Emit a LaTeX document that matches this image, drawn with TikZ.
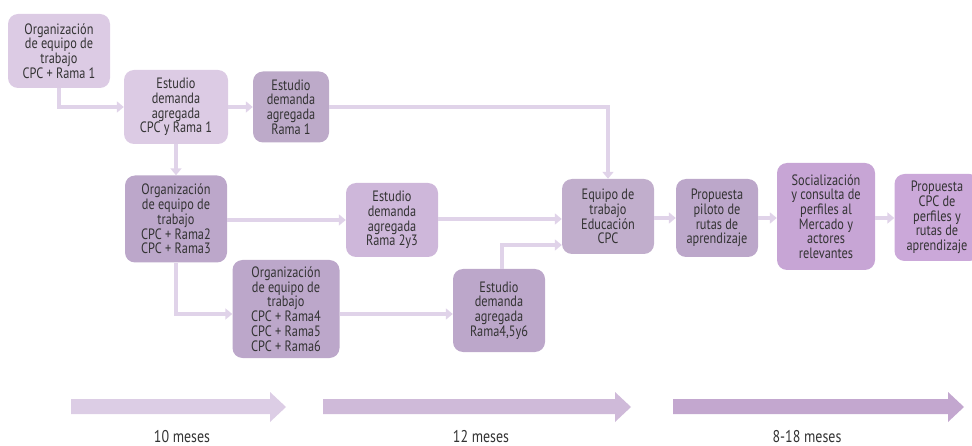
\documentclass[tikz,border=0pt]{standalone}
\usepackage{fontspec}
\setmainfont[FakeStretch=0.82]{PT Sans}
\usetikzlibrary{arrows.meta,calc}
\definecolor{txt}{HTML}{333333}
\definecolor{cA}{HTML}{DCCBE4}
\definecolor{cB}{HTML}{BDAAC9}
\definecolor{cC}{HTML}{BCA7CA}
\definecolor{cD}{HTML}{CEB7DA}
\definecolor{cE}{HTML}{C1AECC}
\definecolor{cF}{HTML}{C7A5D5}
\definecolor{cG}{HTML}{CBA8D9}
\definecolor{conn}{HTML}{E0D3E9}
\definecolor{tA}{HTML}{DCCDE5}
\definecolor{tB}{HTML}{CFBAD9}
\definecolor{tC}{HTML}{C3A7CF}
\tikzset{
  boxnode/.style={rounded corners=10pt, align=center, text=txt, inner sep=2pt,
    font=\fontsize{15}{14.7}\selectfont},
  conline/.style={draw=conn, line width=4.5pt, -{Triangle[width=11pt,length=7pt]}},
  lbl/.style={text=txt, font=\fontsize{17}{18}\selectfont}
}
\begin{document}
\begin{tikzpicture}[x=1pt,y=-1pt]
\useasboundingbox (0,0) rectangle (972,446);
\clip (0,0) rectangle (972,446);
% boxes
\node[boxnode, fill=cA, minimum width=102pt, minimum height=74pt] (b1) at (59,51)
  {Organización\\de equipo de\\trabajo\\CPC + Rama 1};
\node[boxnode, fill=cA, minimum width=104pt, minimum height=74pt] (b2) at (176,107)
  {Estudio\\demanda\\agregada\\CPC y Rama 1};
\node[boxnode, fill=cB, minimum width=76pt, minimum height=71pt] (b3) at (291,107)
  {Estudio\\demanda\\agregada\\Rama 1};
\node[boxnode, fill=cC, minimum width=102pt, minimum height=87pt] (b4) at (176,219)
  {Organización\\de equipo de\\trabajo\\CPC + Rama2\\CPC + Rama3};
\node[boxnode, fill=cD, minimum width=92pt, minimum height=74pt] (b5) at (392,220)
  {Estudio\\demanda\\agregada\\Rama 2y3};
\node[boxnode, fill=cC, minimum width=107pt, minimum height=98pt] (b6) at (286,309)
  {Organización\\de equipo de\\trabajo\\CPC + Rama4\\CPC + Rama5\\CPC + Rama6};
\node[boxnode, fill=cC, minimum width=92pt, minimum height=83pt] (b7) at (499,310.5)
  {Estudio\\demanda\\agregada\\Rama4,5y6};
\node[boxnode, fill=cE, minimum width=92pt, minimum height=75pt] (b8) at (608,216.5)
  {Equipo de\\trabajo\\Educación\\CPC};
\node[boxnode, fill=cC, minimum width=82pt, minimum height=78pt] (b9) at (717,218)
  {Propuesta\\piloto de\\rutas de\\aprendizaje};
\node[boxnode, fill=cF, minimum width=98pt, minimum height=107pt] (b10) at (826,216.5)
  {Socialización\\y consulta de\\perfiles al\\Mercado y\\actores\\relevantes};
\node[boxnode, fill=cG, minimum width=85pt, minimum height=87pt] (b11) at (937,217.5)
  {Propuesta\\CPC de\\perfiles y\\rutas de\\aprendizaje};
% helper coordinates
\coordinate (r6) at ($(b6.west)+(0,5)$);
\coordinate (r8a) at ($(b8.west)+(0,2.5)$);
\coordinate (r8b) at ($(b8.west)+(0,28.5)$);
% connectors
\draw[conline] (b1.south) |- (b2.west);
\draw[conline] (b2.east) -- (b3.west);
\draw[conline] (b3.east) -| (b8.north);
\draw[conline] (b2.south) -- (b4.north);
\draw[conline] (b4.east |- b5.west) -- (b5.west);
\draw[conline] (b5.east |- r8a) -- (r8a);
\draw[conline] (b4.south) |- (r6);
\draw[conline] (b6.east |- r6) -- (b7.west |- r6);
\draw[conline] ($(b7.north)+(3,0)$) |- (r8b);
\draw[conline] (b8.east |- b9.west) -- (b9.west);
\draw[conline] (b9.east) -- (b10.west |- b9.east);
\draw[conline] (b10.east |- b9.east) -- (b11.west |- b9.east);
% timeline
\fill[tA] (71,399) -- (270,399) -- (270,392) -- (286,407) -- (270,422) -- (270,414) -- (71,414) -- cycle;
\fill[tB] (323,399) -- (615,399) -- (615,392) -- (631,407) -- (615,422) -- (615,414) -- (323,414) -- cycle;
\fill[tC] (673,399) -- (948,399) -- (948,392) -- (964,407) -- (948,422) -- (948,414) -- (673,414) -- cycle;
\node[lbl] (l1) at (182,437) {10 meses};
\node[lbl] (l2) at (481,437) {12 meses};
\node[lbl] (l3) at (807,437) {8-18 meses};
\end{tikzpicture}
\end{document}
